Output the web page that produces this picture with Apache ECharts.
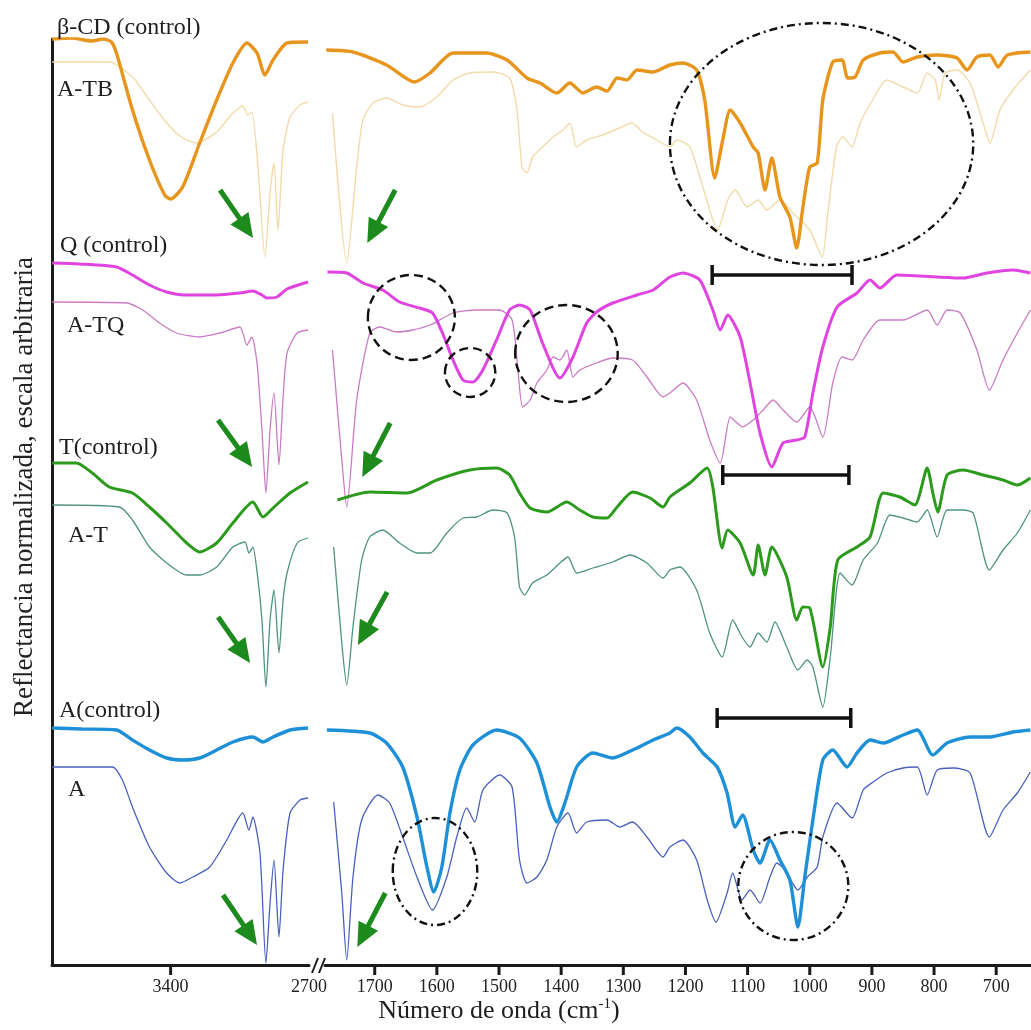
<!DOCTYPE html>
<html>
<head>
<meta charset="utf-8">
<script src="https://cdn.jsdelivr.net/npm/echarts@6/dist/echarts.min.js"></script>
<style>
html,body{margin:0;padding:0;background:#fff;}
#chart{width:1031px;height:1030px;}
</style>
</head>
<body>
<div id="chart"></div>
<script>
// FTIR reflectance spectra, offset vertically. Each spectrum is split into
// the 4000-2700 cm-1 window (_L) and the 1780-644 cm-1 window (_R).
// Points are [wavenumber (cm-1), normalized reflectance (arbitrary units)].

const betaCD_L = [[3999,92.6],[3900,92.7],[3800,92.4],[3740,92.6],[3700,92.3],[3674,91.2],[3593,85.5],[3507,80.5],[3430,77.0],[3400,76.6],[3339,77.8],[3253,82.2],[3167,86.5],[3085,90.2],[3014,92.2],[2963,91.2],[2923,89.0],[2882,90.5],[2811,92.2],[2705,92.3]];
const betaCD_R = [[1778,91.5],[1735,91.3],[1681,90.0],[1636,88.3],[1611,89.2],[1574,91.2],[1520,91.2],[1487,90.5],[1455,88.7],[1434,88.2],[1407,87.2],[1386,88.2],[1365,87.2],[1343,87.8],[1326,87.4],[1310,88.7],[1294,88.5],[1278,89.5],[1252,89.3],[1225,90.0],[1204,90.2],[1182,89.5],[1169,86.5],[1153,78.7],[1140,82.5],[1128,85.5],[1112,84.2],[1091,81.8],[1083,81.2],[1072,77.5],[1061,80.7],[1048,76.8],[1032,74.8],[1021,71.7],[1011,75.8],[1000,79.8],[988,80.2],[979,86.5],[963,90.3],[948,90.5],[939,88.7],[927,88.8],[914,90.5],[887,91.2],[866,91.3],[850,90.3],[827,90.8],[795,91.0],[763,90.7],[747,89.5],[731,90.8],[710,91.0],[697,89.8],[682,91.0],[645,91.3]];

const aTB_L = [[3999,90.3],[3710,90.3],[3593,88.8],[3507,86.5],[3420,84.2],[3339,82.7],[3268,82.2],[3167,83.3],[3085,85.2],[3035,85.9],[3009,85.0],[2989,85.3],[2958,79.8],[2923,70.8],[2897,77.2],[2877,80.2],[2857,73.5],[2831,81.5],[2796,84.8],[2745,86.0],[2705,86.3]];
const aTB_R = [[1768,85.2],[1745,70.2],[1729,79.8],[1719,84.5],[1703,86.2],[1681,86.7],[1655,86.0],[1628,85.8],[1600,86.8],[1574,88.5],[1547,89.2],[1510,89.3],[1483,88.7],[1471,85.5],[1463,79.8],[1455,79.2],[1446,80.8],[1423,82.2],[1413,82.8],[1397,83.5],[1386,84.2],[1375,81.8],[1359,82.5],[1333,83.0],[1306,83.7],[1286,84.2],[1269,83.3],[1246,82.5],[1225,81.8],[1214,82.5],[1193,81.8],[1172,77.8],[1148,73.5],[1132,76.5],[1120,77.5],[1101,75.8],[1083,76.5],[1069,75.5],[1048,76.5],[1027,75.2],[1000,73.5],[980,70.8],[971,75.2],[957,81.8],[947,82.8],[932,81.8],[919,84.2],[899,86.5],[876,88.5],[850,87.8],[827,87.2],[811,89.2],[798,88.5],[792,86.5],[782,89.2],[763,89.5],[742,88.2],[721,84.2],[710,82.2],[694,85.5],[673,87.5],[645,89.5]];

const qC_L = [[3999,70.2],[3862,70.1],[3674,69.8],[3593,69.0],[3507,68.0],[3420,67.3],[3329,67.0],[3167,67.0],[3050,67.2],[2984,67.4],[2938,67.0],[2913,66.7],[2862,66.8],[2811,67.6],[2705,68.3]];
const qC_R = [[1776,69.3],[1745,69.2],[1719,68.2],[1687,67.5],[1660,66.3],[1628,65.7],[1607,65.2],[1591,63.2],[1574,60.5],[1558,58.5],[1542,58.3],[1526,59.5],[1504,62.5],[1483,65.5],[1467,66.0],[1450,65.5],[1430,62.2],[1402,58.7],[1381,60.8],[1359,64.2],[1343,65.3],[1317,66.2],[1278,67.0],[1252,67.5],[1225,68.8],[1204,69.2],[1177,68.5],[1156,65.5],[1144,63.5],[1132,65.0],[1112,62.8],[1096,58.2],[1080,53.2],[1061,49.8],[1043,52.2],[1021,52.5],[1008,52.8],[995,57.2],[979,61.8],[956,65.8],[924,67.2],[903,68.5],[887,67.7],[860,69.0],[795,68.8],[753,68.7],[715,69.2],[673,69.5],[645,69.2]];

const aTQ_L = [[3999,66.3],[3623,66.2],[3542,65.5],[3456,64.2],[3370,63.2],[3253,62.8],[3151,63.2],[3050,63.8],[3014,62.0],[2989,62.8],[2963,60.2],[2938,53.5],[2918,47.2],[2897,53.5],[2877,57.2],[2852,50.0],[2831,56.8],[2811,61.2],[2760,63.2],[2705,63.5]];
const aTQ_R = [[1768,61.5],[1752,49.8],[1745,45.8],[1729,56.5],[1708,63.2],[1692,63.8],[1665,63.3],[1639,63.5],[1611,64.0],[1574,65.2],[1536,65.5],[1499,65.5],[1479,64.5],[1470,59.8],[1462,55.8],[1450,56.5],[1439,58.2],[1423,59.5],[1413,60.8],[1402,60.5],[1391,61.5],[1381,58.8],[1370,59.5],[1343,60.2],[1317,60.7],[1285,60.5],[1262,58.8],[1236,56.8],[1225,57.2],[1204,58.2],[1182,56.5],[1161,52.5],[1144,50.2],[1128,54.8],[1117,54.2],[1108,53.8],[1091,54.5],[1075,55.5],[1059,56.5],[1043,55.5],[1021,54.3],[1000,55.8],[979,52.8],[963,58.2],[948,60.8],[932,60.5],[914,62.5],[887,64.5],[850,64.5],[811,65.5],[795,64.0],[779,65.5],[758,65.2],[731,61.5],[711,57.5],[689,60.5],[666,63.2],[645,65.5]];

const tC_L = [[3999,50.2],[3877,50.2],[3796,49.2],[3710,47.8],[3593,47.2],[3507,45.8],[3420,44.2],[3319,42.2],[3253,41.3],[3167,42.2],[3085,44.2],[2984,46.3],[2933,44.8],[2882,45.7],[2796,47.2],[2705,48.3]];
const tC_R = [[1760,46.5],[1708,47.3],[1648,47.2],[1600,48.5],[1547,49.5],[1504,49.7],[1483,49.0],[1467,47.2],[1450,45.7],[1423,45.3],[1391,46.3],[1370,45.5],[1349,44.8],[1326,44.7],[1310,45.8],[1285,47.3],[1257,46.7],[1236,45.8],[1225,46.8],[1193,48.2],[1165,49.7],[1156,47.8],[1141,41.7],[1132,43.5],[1112,42.2],[1091,39.0],[1083,42.0],[1072,39.0],[1061,41.8],[1037,38.8],[1021,34.5],[1011,35.8],[1000,35.7],[979,29.8],[967,33.8],[955,40.5],[924,41.8],[903,42.8],[882,47.2],[855,46.8],[831,46.0],[811,49.7],[802,47.2],[794,45.3],[779,49.0],[753,49.5],[721,49.0],[689,48.5],[666,48.0],[645,48.7]];

const aT_L = [[3999,46.0],[3659,45.8],[3593,44.5],[3507,41.8],[3420,40.2],[3319,39.0],[3253,39.0],[3167,39.8],[3085,41.8],[3024,42.3],[3004,41.2],[2984,41.8],[2958,38.5],[2938,34.5],[2918,27.8],[2897,34.5],[2877,37.5],[2852,31.2],[2831,36.5],[2811,39.2],[2760,42.2],[2705,42.7]];
const aT_R = [[1766,41.8],[1753,32.2],[1745,28.0],[1735,33.8],[1721,40.5],[1708,42.8],[1687,43.5],[1660,42.2],[1632,41.2],[1611,41.2],[1584,43.2],[1558,44.7],[1536,44.8],[1510,45.5],[1487,45.2],[1475,42.8],[1467,37.8],[1459,37.0],[1446,38.2],[1423,39.0],[1402,40.2],[1389,40.8],[1375,39.2],[1349,39.7],[1317,40.3],[1289,41.0],[1262,40.2],[1236,38.7],[1225,39.5],[1209,39.8],[1182,37.5],[1161,33.2],[1141,30.8],[1124,34.5],[1109,32.8],[1096,31.8],[1083,33.2],[1069,32.3],[1056,34.3],[1037,31.8],[1019,29.5],[1004,30.5],[995,29.8],[979,25.8],[967,30.8],[951,39.2],[932,38.0],[914,40.5],[891,42.2],[871,45.0],[850,44.7],[827,44.3],[811,45.5],[795,42.8],[779,45.5],[753,45.5],[737,45.2],[711,39.5],[689,41.5],[666,43.2],[645,45.5]];

const aC_L = [[3999,23.7],[3850,23.6],[3674,23.5],[3593,22.5],[3507,21.5],[3420,20.7],[3339,20.5],[3253,20.7],[3167,21.5],[3085,22.3],[2984,22.8],[2933,22.3],[2882,22.8],[2796,23.5],[2705,23.7]];
const aC_R = [[1777,23.5],[1708,23.2],[1681,22.2],[1655,19.8],[1632,14.8],[1616,9.8],[1605,7.3],[1592,9.8],[1579,15.2],[1563,19.5],[1542,22.0],[1504,23.5],[1467,22.7],[1439,20.2],[1418,15.8],[1407,14.3],[1394,16.2],[1375,19.8],[1349,21.2],[1317,20.7],[1285,21.5],[1252,22.5],[1225,23.2],[1214,23.7],[1193,22.8],[1172,21.2],[1149,19.8],[1133,17.2],[1120,13.8],[1108,15.0],[1091,11.5],[1080,10.2],[1064,12.5],[1048,10.5],[1032,8.5],[1019,3.8],[1008,8.8],[995,14.5],[979,20.5],[963,21.5],[940,19.8],[924,21.2],[903,22.5],[882,22.2],[850,23.0],[827,23.5],[802,21.0],[779,22.2],[742,22.8],[710,22.8],[673,23.3],[645,23.5]];

const a_L = [[3999,19.8],[3694,19.8],[3644,18.5],[3593,15.8],[3507,11.8],[3420,9.2],[3354,8.2],[3288,8.8],[3202,9.8],[3116,12.5],[3035,15.2],[3004,13.5],[2984,14.8],[2948,11.2],[2918,0.2],[2897,6.2],[2877,10.5],[2852,2.8],[2831,9.5],[2796,15.2],[2745,16.5],[2705,16.7]];
const a_R = [[1766,16.3],[1753,7.2],[1745,0.5],[1735,8.8],[1721,14.5],[1695,17.0],[1676,16.2],[1655,12.8],[1632,8.8],[1607,5.5],[1584,8.8],[1568,12.8],[1552,15.7],[1539,14.3],[1526,17.5],[1499,19.0],[1479,17.8],[1467,10.5],[1455,8.2],[1439,8.8],[1423,10.5],[1407,13.8],[1389,15.2],[1375,13.2],[1359,14.3],[1326,14.5],[1306,13.8],[1285,14.3],[1262,12.8],[1236,10.8],[1225,11.8],[1204,12.5],[1182,10.5],[1165,6.5],[1151,4.3],[1133,7.2],[1124,9.2],[1109,6.5],[1096,7.5],[1080,6.2],[1064,8.8],[1053,10.2],[1040,9.5],[1019,7.5],[1004,8.8],[988,9.8],[979,12.8],[956,16.2],[932,14.7],[914,17.5],[898,18.3],[876,19.2],[850,19.7],[827,19.8],[811,17.0],[795,19.5],[769,19.7],[742,19.2],[711,12.8],[689,15.5],[666,17.2],[645,19.3]];

// Axis tick labels and tick marks for the two windows
const ticksHigh = [3400, 2700];
const tickMarksHigh = [3400];
const ticksLow = [1700, 1600, 1500, 1400, 1300, 1200, 1100, 1000, 900, 800, 700];

// Annotation anchors in data units: [panel, wnStart, valueStart, wnTip, valueTip]
const arrows = [
  [0, 3150, 77.5, 2983, 72.7], [0, 3160, 54.5, 2988, 49.8], [0, 3160, 34.8, 2998, 30.2], [0, 3135, 7.0, 2963, 2.0],
  [1, 1667, 77.5, 1712, 72.2], [1, 1675, 54.2, 1720, 48.8], [1, 1680, 37.3, 1727, 32.0], [1, 1683, 7.2, 1728, 1.8]
];
// Ellipses: [wnLeft, wnRight, valTop, valBottom, style]
const rings = [
  [1225, 737, 94.2, 70.0, 'dashdot'],
  [1711, 1571, 69.0, 60.5, 'dash'],
  [1587, 1506, 61.7, 56.8, 'dash'],
  [1474, 1309, 66.0, 56.3, 'dash'],
  [1671, 1535, 14.7, 4.0, 'dashdot'],
  [1115, 938, 13.3, 2.5, 'dashdot']
];
// Range bars: [wnFrom, wnTo, value]
const ranges = [[1157, 932, 69.0], [1140, 937, 49.0], [1149, 934, 24.7]];

const SERIF = '"Liberation Serif", "DejaVu Serif", serif';
const INK = '#1a1a1a';

const spectra = [
  { name: 'A-TB', L: aTB_L, R: aTB_R, color: '#F2DBAA', width: 1.4, z: 2 },
  { name: 'β-CD', L: betaCD_L, R: betaCD_R, color: '#E8951E', width: 3.4, z: 4 },
  { name: 'A-TQ', L: aTQ_L, R: aTQ_R, color: '#C97CC4', width: 1.3, z: 2 },
  { name: 'Q', L: qC_L, R: qC_R, color: '#E044E0', width: 3.0, z: 4 },
  { name: 'A-T', L: aT_L, R: aT_R, color: '#4E9478', width: 1.3, z: 2 },
  { name: 'T', L: tC_L, R: tC_R, color: '#2C9A1C', width: 3.0, z: 4 },
  { name: 'A', L: a_L, R: a_R, color: '#4A60BE', width: 1.3, z: 2 },
  { name: 'A control', L: aC_L, R: aC_R, color: '#1E90D8', width: 3.4, z: 4 }
];

const series = [];
spectra.forEach(s => {
  [[s.L, 0], [s.R, 1]].forEach(([d, i]) => {
    series.push({
      type: 'line', name: s.name, xAxisIndex: i, yAxisIndex: i, data: d,
      symbol: 'none', smooth: 0.22, silent: true, z: s.z,
      lineStyle: { color: s.color, width: s.width }
    });
  });
});

const tickLabelStyle = { fontFamily: SERIF, fontSize: 18, color: '#222', margin: 13, formatter: v => String(v) };
const axisLineStyle = { color: INK, width: 3 };

const option = {
  animation: false,
  backgroundColor: '#fff',
  grid: [
    { left: 52, top: 39, width: 257, height: 926 },
    { left: 325, top: 39, width: 706, height: 926 }
  ],
  xAxis: [
    { gridIndex: 0, type: 'value', min: 2700, max: 4000, inverse: true,
      axisLine: { lineStyle: axisLineStyle },
      axisTick: { show: false },
      axisLabel: Object.assign({ customValues: ticksHigh }, tickLabelStyle),
      splitLine: { show: false } },
    { gridIndex: 1, type: 'value', min: 644, max: 1780, inverse: true,
      axisLine: { lineStyle: axisLineStyle },
      axisTick: { show: false },
      axisLabel: Object.assign({ customValues: ticksLow }, tickLabelStyle),
      splitLine: { show: false } }
  ],
  yAxis: [
    { gridIndex: 0, type: 'value', min: 0, max: 92.6,
      axisLine: { show: true, lineStyle: axisLineStyle },
      axisTick: { show: false }, axisLabel: { show: false }, splitLine: { show: false } },
    { gridIndex: 1, type: 'value', min: 0, max: 92.6, show: false }
  ],
  series: series
};

const chart = echarts.init(document.getElementById('chart'), null, { renderer: 'canvas' });
chart.setOption(option);

const toPx = (g, wn, v) => chart.convertToPixel({ gridIndex: g }, [wn, v]);
const graphics = [];

// Tick marks below the wavenumber axis
[[0, tickMarksHigh], [1, ticksLow]].forEach(([g, vals]) => vals.forEach(v => {
  const p = toPx(g, v, 0);
  graphics.push({ type: 'rect', z: 20,
    shape: { x: p[0] - 1.5, y: p[1], width: 3, height: 10 },
    style: { fill: INK } });
}));

// Spectrum names
const names = [
  ['β-CD (control)', 57, 28], ['A-TB', 57, 90], ['Q (control)', 60, 246], ['A-TQ', 67, 326],
  ['T(control)', 59, 448], ['A-T', 68, 536], ['A(control)', 59, 711], ['A', 68, 790]
];
names.forEach(([t, x, y]) => graphics.push({
  type: 'text', x: x, y: y, z: 20,
  style: { text: t, font: '24px ' + SERIF, fill: '#1f1f1f', verticalAlign: 'middle' }
}));

// Axis titles
graphics.push({
  type: 'text', x: 25, y: 487, rotation: Math.PI / 2, z: 20,
  style: { text: 'Reflectancia normalizada, escala arbitraria', font: '27px ' + SERIF,
    fill: '#222', align: 'center', verticalAlign: 'middle' }
});
graphics.push({
  type: 'text', x: 499, y: 1011, z: 20,
  style: {
    text: '{a|Número de onda (cm}{s|-1}{a|)}',
    align: 'center', verticalAlign: 'middle',
    rich: {
      a: { fontFamily: SERIF, fontSize: 26, fill: '#1f1f1f', lineHeight: 28 },
      s: { fontFamily: SERIF, fontSize: 15, fill: '#1f1f1f', verticalAlign: 'top', lineHeight: 28 }
    }
  }
});

// Axis break marks
const brk = toPx(0, 2700, 0);
[3, 10].forEach(dx => graphics.push({
  type: 'line', z: 20,
  shape: { x1: brk[0] + dx, y1: brk[1] + 8, x2: brk[0] + 6 + dx, y2: brk[1] - 7 },
  style: { stroke: INK, lineWidth: 2 }
}));

// Green arrows
arrows.forEach(([g, w0, v0, w1, v1]) => {
  const p0 = toPx(g, w0, v0), p1 = toPx(g, w1, v1);
  const dx = p1[0] - p0[0], dy = p1[1] - p0[1];
  const len = Math.hypot(dx, dy), ux = dx / len, uy = dy / len;
  const nx = -uy, ny = ux, L = 24, W = 11;
  const bx = p1[0] - ux * L, by = p1[1] - uy * L;
  graphics.push({ type: 'line', z: 15,
    shape: { x1: p0[0], y1: p0[1], x2: bx + ux * 2, y2: by + uy * 2 },
    style: { stroke: '#1C8A1C', lineWidth: 5 } });
  graphics.push({ type: 'polygon', z: 15,
    shape: { points: [[p1[0], p1[1]], [bx + nx * W, by + ny * W], [bx - nx * W, by - ny * W]] },
    style: { fill: '#1C8A1C' } });
});

// Dashed rings
rings.forEach(([wl, wr, vt, vb, kind]) => {
  const a = toPx(1, wl, vt), b = toPx(1, wr, vb);
  graphics.push({ type: 'ellipse', z: 16,
    shape: { cx: (a[0] + b[0]) / 2, cy: (a[1] + b[1]) / 2, rx: Math.abs(b[0] - a[0]) / 2, ry: Math.abs(b[1] - a[1]) / 2 },
    style: { fill: null, stroke: '#111', lineWidth: 2.4,
      lineDash: kind === 'dash' ? [9, 5] : [8, 4, 2, 4] } });
});

// Range bars
ranges.forEach(([w0, w1, v]) => {
  const a = toPx(1, w0, v), b = toPx(1, w1, v);
  graphics.push({ type: 'line', z: 16, shape: { x1: a[0], y1: a[1], x2: b[0], y2: b[1] }, style: { stroke: '#111', lineWidth: 3.5 } });
  [a, b].forEach(p => graphics.push({ type: 'line', z: 16,
    shape: { x1: p[0], y1: p[1] - 10, x2: p[0], y2: p[1] + 10 }, style: { stroke: '#111', lineWidth: 3.5 } }));
});

chart.setOption({ graphic: graphics });
</script>
</body>
</html>
